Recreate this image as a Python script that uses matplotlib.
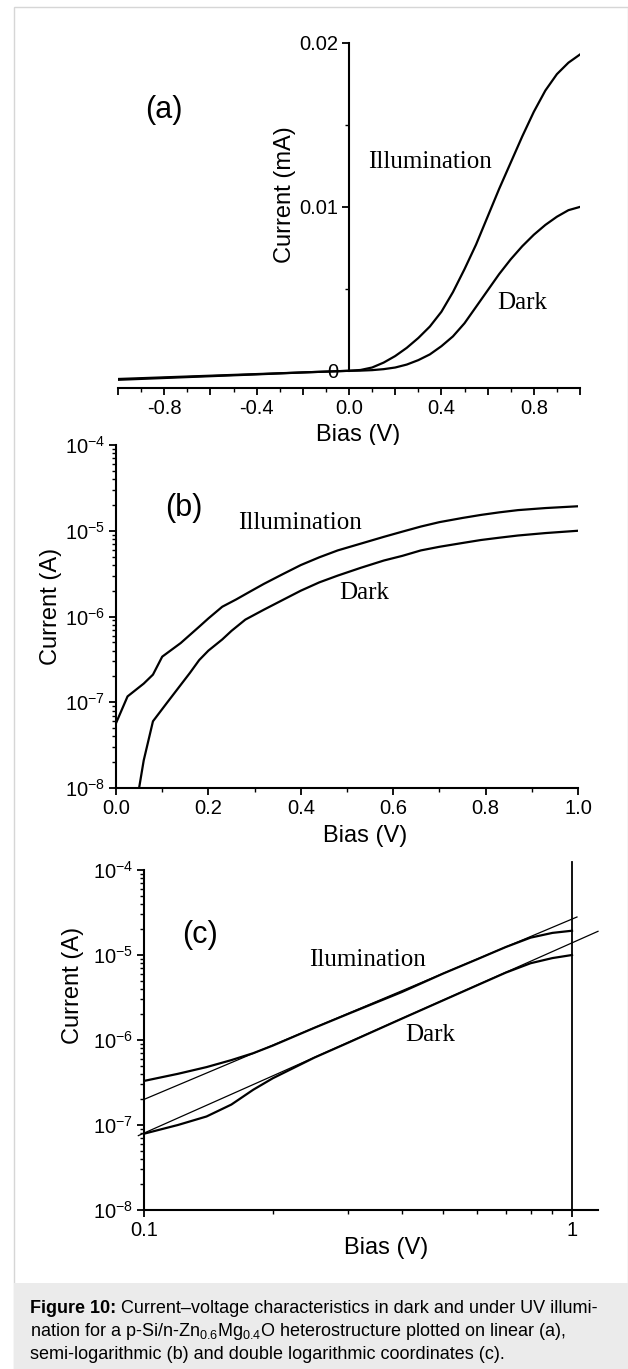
# I-V curves of p-Si/n-ZnMgO heterostructure, three panels + caption
import numpy as np
import matplotlib
matplotlib.use('Agg')
import matplotlib.pyplot as plt
from matplotlib.ticker import FixedLocator, MultipleLocator, FuncFormatter, LogLocator, NullFormatter
from matplotlib.patches import Rectangle

plt.rcParams['font.family'] = ['Liberation Sans', 'DejaVu Sans']
plt.rcParams['axes.unicode_minus'] = False
plt.rcParams['mathtext.fontset'] = 'custom'
plt.rcParams['mathtext.rm'] = 'Liberation Sans'
plt.rcParams['mathtext.it'] = 'Liberation Sans:italic'
plt.rcParams['mathtext.bf'] = 'Liberation Sans:bold'

# panel (a): linear, current in mA
bias_a = [-1.0, -0.8, -0.6, -0.4, -0.2, 0.0, 0.05, 0.1, 0.15, 0.2, 0.25, 0.3, 0.35, 0.4, 0.45,
          0.5, 0.55, 0.6, 0.65, 0.7, 0.75, 0.8, 0.85, 0.9, 0.95, 1.0]
illum_a = [-0.0005, -0.0004, -0.0003, -0.0002, -0.0001, 0.0, 0.00005, 0.0002, 0.0005, 0.0009,
           0.0014, 0.0020, 0.0027, 0.0036, 0.0048, 0.0062, 0.0077, 0.0094, 0.0111, 0.0127,
           0.0143, 0.0158, 0.0171, 0.0181, 0.0188, 0.0193]
dark_a = [-0.00055, -0.00044, -0.00033, -0.00022, -0.0001, 0.0, 0.00001, 0.00004, 0.0001, 0.0002,
          0.00038, 0.00065, 0.001, 0.0015, 0.0021, 0.0029, 0.0039, 0.0049, 0.0059, 0.0068,
          0.0076, 0.0083, 0.0089, 0.0094, 0.0098, 0.0100]

# panel (b): semi-log, current in A
bias_b_illum = [0.0, 0.025, 0.06, 0.08, 0.1, 0.14, 0.18, 0.2, 0.23, 0.26, 0.29, 0.32, 0.36,
                0.4, 0.44, 0.48, 0.53, 0.58, 0.62, 0.66, 0.7, 0.75, 0.79, 0.83, 0.87, 0.93, 1.0]
illum_b = [5.7e-8, 1.17e-7, 1.65e-7, 2.1e-7, 3.4e-7, 4.9e-7, 7.6e-7, 9.5e-7, 1.3e-6, 1.58e-6,
           1.95e-6, 2.4e-6, 3.1e-6, 3.98e-6, 4.9e-6, 5.9e-6, 7.08e-6, 8.5e-6, 9.77e-6, 1.12e-5,
           1.26e-5, 1.41e-5, 1.53e-5, 1.64e-5, 1.74e-5, 1.84e-5, 1.93e-5]
bias_b_dark = [0.05, 0.06, 0.08, 0.11, 0.16, 0.18, 0.2, 0.23, 0.25, 0.28, 0.32, 0.36, 0.4, 0.44,
               0.48, 0.53, 0.58, 0.62, 0.66, 0.7, 0.75, 0.79, 0.83, 0.87, 0.93, 1.0]
dark_b = [1.0e-8, 2.1e-8, 6.0e-8, 9.8e-8, 2.2e-7, 3.1e-7, 4.0e-7, 5.4e-7, 6.8e-7, 9.2e-7,
          1.2e-6, 1.55e-6, 2.0e-6, 2.5e-6, 3.0e-6, 3.7e-6, 4.5e-6, 5.1e-6, 5.9e-6, 6.5e-6,
          7.2e-6, 7.8e-6, 8.3e-6, 8.8e-6, 9.4e-6, 1.0e-5]

# panel (c): log-log with power-law fits
bias_c = [0.1, 0.12, 0.14, 0.16, 0.18, 0.2, 0.25, 0.3, 0.4, 0.5, 0.6, 0.7, 0.8, 0.9, 1.0]
illum_c = [3.3e-7, 4.0e-7, 4.8e-7, 5.8e-7, 7.0e-7, 8.6e-7, 1.39e-6, 2.03e-6, 3.66e-6, 6.05e-6,
           8.9e-6, 1.24e-5, 1.6e-5, 1.82e-5, 1.93e-5]
dark_c = [7.9e-8, 1.0e-7, 1.26e-7, 1.74e-7, 2.6e-7, 3.55e-7, 6.2e-7, 9.3e-7, 1.78e-6, 2.93e-6,
          4.4e-6, 6.2e-6, 8.0e-6, 9.2e-6, 1.0e-5]
fit_illum_x = [0.1, 1.027]
fit_illum_y = [2.0e-7, 2.8e-5]
fit_dark_x = [0.097, 1.15]
fit_dark_y = [7.5e-8, 1.9e-5]

caption_bold = "Figure 10:"
caption = [" Current–voltage characteristics in dark and under UV illumi-",
           r"nation for a p-Si/n-Zn$_{0.6}$Mg$_{0.4}$O heterostructure plotted on linear (a),",
           "semi-logarithmic (b) and double logarithmic coordinates (c)."]

W, H = 628, 1369
fig = plt.figure(figsize=(W / 100, H / 100), dpi=100)


def box(l, t, r, b):
    # pixel box -> figure fraction
    return [l / W, 1 - b / H, (r - l) / W, (b - t) / H]


# frame and caption background
fig.patches.append(Rectangle((14 / W, 0), 1 - 14 / W - 0.5 / W, 1 - 7 / H, transform=fig.transFigure,
                             facecolor='none', edgecolor='#d6d6d6', lw=1))
fig.patches.append(Rectangle((14.5 / W, 0), 1 - 14.5 / W, (H - 1283) / H, transform=fig.transFigure,
                             facecolor='#ebebeb', edgecolor='none'))

LW = 1.6
TICK = 14.5
LAB = 17
SERIF = ['Liberation Serif', 'DejaVu Serif']


def style(ax):
    for s in ['top', 'right']:
        ax.spines[s].set_visible(False)
    for s in ['left', 'bottom']:
        ax.spines[s].set_linewidth(1.5)
    ax.tick_params(which='major', direction='out', length=5, width=1.3, labelsize=TICK, pad=3)
    ax.tick_params(which='minor', direction='out', length=3, width=1.0)


# ---- (a)
ax = fig.add_axes(box(118, 43, 580, 388))
style(ax)
ax.plot(bias_a, illum_a, color='black', lw=LW)
ax.plot(bias_a, dark_a, color='black', lw=LW)
ax.set_xlim(-1, 1)
ax.set_ylim(-0.00105, 0.02)
ax.spines['left'].set_position(('data', 0))
ax.spines['left'].set_bounds(0, 0.02)
ax.yaxis.set_major_locator(FixedLocator([0, 0.01, 0.02]))
ax.yaxis.set_minor_locator(FixedLocator([0.005, 0.015]))
ax.yaxis.set_major_formatter(FuncFormatter(lambda v, p: '0' if v == 0 else f'{v:.2f}'))
ax.xaxis.set_major_locator(MultipleLocator(0.2))
ax.xaxis.set_minor_locator(MultipleLocator(0.1))


def fmt_a(v, pos):
    k = int(round(v / 0.2))
    return f'{v:.1f}'.replace('-0.0', '0.0') if k % 2 == 0 and abs(k) < 5 else ''


ax.xaxis.set_major_formatter(FuncFormatter(fmt_a))
ax.set_xlabel('Bias (V)', fontsize=LAB)
ax.xaxis.set_label_coords(0.52, -0.105)
ax.set_ylabel('Current (mA)', fontsize=LAB)
ax.yaxis.set_label_coords(0.385, 0.56)
ax.text(0.10, 0.806, '(a)', transform=ax.transAxes, fontsize=22, ha='center', va='center')
ax.text(0.675, 0.655, 'Illumination', transform=ax.transAxes, fontsize=18, family=SERIF,
        ha='center', va='center')
ax.text(0.874, 0.246, 'Dark', transform=ax.transAxes, fontsize=18, family=SERIF,
        ha='center', va='center')

# ---- (b)
ax = fig.add_axes(box(116, 445, 578, 788))
style(ax)
ax.plot(bias_b_illum, illum_b, color='black', lw=LW)
ax.plot(bias_b_dark, dark_b, color='black', lw=LW)
ax.set_yscale('log')
ax.set_xlim(0, 1)
ax.set_ylim(1e-8, 1e-4)
ax.xaxis.set_major_locator(MultipleLocator(0.2))
ax.xaxis.set_minor_locator(MultipleLocator(0.1))
ax.xaxis.set_major_formatter(FuncFormatter(lambda v, p: f'{v:.1f}'))
ax.yaxis.set_major_locator(LogLocator(base=10, numticks=10))
ax.yaxis.set_minor_locator(LogLocator(base=10, subs=np.arange(2, 10), numticks=20))
ax.yaxis.set_minor_formatter(NullFormatter())
ax.set_xlabel('Bias (V)', fontsize=LAB)
ax.xaxis.set_label_coords(0.539, -0.108)
ax.set_ylabel('Current (A)', fontsize=LAB)
ax.yaxis.set_label_coords(-0.117, 0.53)
ax.text(0.147, 0.816, '(b)', transform=ax.transAxes, fontsize=22, ha='center', va='center')
ax.text(0.398, 0.773, 'Illumination', transform=ax.transAxes, fontsize=18, family=SERIF,
        ha='center', va='center')
ax.text(0.537, 0.569, 'Dark', transform=ax.transAxes, fontsize=18, family=SERIF,
        ha='center', va='center')

# ---- (c)
ax = fig.add_axes(box(144, 870, 598, 1210))
style(ax)
ax.plot(bias_c, illum_c, color='black', lw=LW)
ax.plot(bias_c, dark_c, color='black', lw=LW)
ax.plot(fit_illum_x, fit_illum_y, color='black', lw=0.9, clip_on=False)
ax.plot(fit_dark_x, fit_dark_y, color='black', lw=0.9, clip_on=False)
ax.axvline(1, ymin=0, ymax=1.024, color='black', lw=1.3, clip_on=False)
ax.set_xscale('log')
ax.set_yscale('log')
ax.set_xlim(0.1, 1.15)
ax.set_ylim(1e-8, 1e-4)
ax.xaxis.set_major_locator(FixedLocator([0.1, 1]))
ax.xaxis.set_major_formatter(FuncFormatter(lambda v, p: '0.1' if v < 0.5 else '1'))
ax.xaxis.set_minor_locator(FixedLocator(np.arange(2, 10) * 0.1))
ax.xaxis.set_minor_formatter(NullFormatter())
ax.yaxis.set_major_locator(LogLocator(base=10, numticks=10))
ax.yaxis.set_minor_locator(LogLocator(base=10, subs=np.arange(2, 10), numticks=20))
ax.yaxis.set_minor_formatter(NullFormatter())
ax.set_xlabel('Bias (V)', fontsize=LAB)
ax.xaxis.set_label_coords(0.533, -0.079)
ax.set_ylabel('Current (A)', fontsize=LAB)
ax.yaxis.set_label_coords(-0.132, 0.66)
ax.text(0.123, 0.809, '(c)', transform=ax.transAxes, fontsize=22, ha='center', va='center')
ax.text(0.493, 0.735, 'Ilumination', transform=ax.transAxes, fontsize=18, family=SERIF,
        ha='center', va='center')
ax.text(0.630, 0.515, 'Dark', transform=ax.transAxes, fontsize=18, family=SERIF,
        ha='center', va='center')

# caption: bold lead-in, then the rest placed right after it
CAP = 13
y0 = 1 - 1313 / H
tb = fig.text(30 / W, y0, caption_bold, fontsize=CAP, fontweight='bold', ha='left', va='baseline')
r = fig.canvas.get_renderer()
bb = tb.get_window_extent(renderer=r)
fig.text(bb.x1 / W, y0, caption[0], fontsize=CAP, ha='left', va='baseline')
for i, line in enumerate(caption[1:]):
    fig.text(30 / W, 1 - (1313 + 23 * (i + 1)) / H, line, fontsize=CAP, ha='left', va='baseline')

fig.savefig('out.png', dpi=100)
